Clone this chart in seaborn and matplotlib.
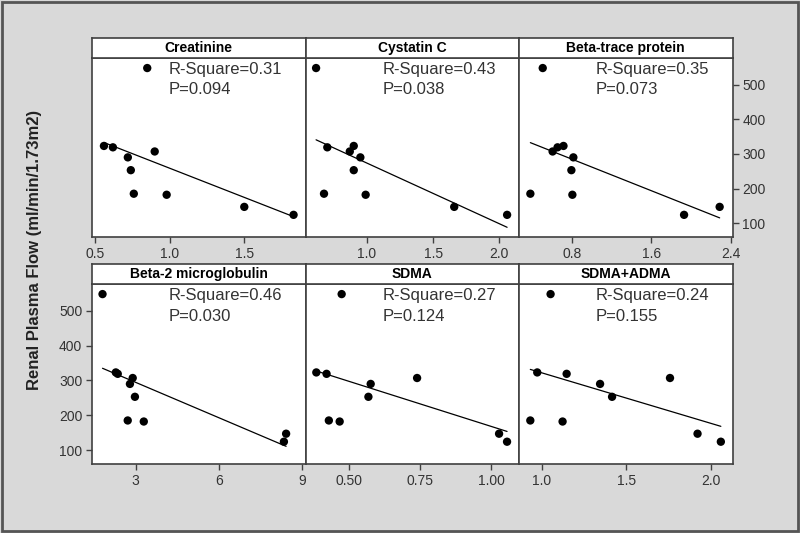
import numpy as np
import pandas as pd
import matplotlib
matplotlib.use("Agg")
import matplotlib.pyplot as plt
import seaborn as sns
from matplotlib.patches import Rectangle

# Renal plasma flow, same subjects in every panel
rpf = [548, 323, 319, 307, 290, 253, 185, 182, 147, 124]

# Biomarker values per subject (same order as rpf)
creatinine = [0.85, 0.56, 0.62, 0.90, 0.72, 0.74, 0.76, 0.98, 1.50, 1.83]
cystatin_c = [0.615, 0.90, 0.70, 0.87, 0.95, 0.90, 0.675, 0.99, 1.66, 2.06]
beta_trace = [0.50, 0.71, 0.65, 0.60, 0.81, 0.79, 0.375, 0.80, 2.29, 1.93]
beta2_micro = [1.80, 2.28, 2.35, 2.89, 2.79, 2.97, 2.71, 3.29, 8.43, 8.35]
sdma = [0.475, 0.386, 0.422, 0.74, 0.577, 0.569, 0.43, 0.468, 1.028, 1.056]
sdma_adma = [1.053, 0.974, 1.148, 1.76, 1.346, 1.417, 0.933, 1.124, 1.923, 2.061]

panel_names = ["Creatinine", "Cystatin C", "Beta-trace protein",
               "Beta-2 microglobulin", "SDMA", "SDMA+ADMA"]
r_square = ["0.31", "0.43", "0.35", "0.46", "0.27", "0.24"]
p_values = ["0.094", "0.038", "0.073", "0.030", "0.124", "0.155"]
x_ticks = [[0.5, 1.0, 1.5], [1.0, 1.5, 2.0], [0.8, 1.6, 2.4],
           [3, 6, 9], [0.50, 0.75, 1.00], [1.0, 1.5, 2.0]]
x_ticklabels = [["0.5", "1.0", "1.5"], ["1.0", "1.5", "2.0"], ["0.8", "1.6", "2.4"],
                ["3", "6", "9"], ["0.50", "0.75", "1.00"], ["1.0", "1.5", "2.0"]]
y_ticks = [100, 200, 300, 400, 500]

marker_x = [creatinine, cystatin_c, beta_trace, beta2_micro, sdma, sdma_adma]
df = pd.concat([pd.DataFrame({"marker": name, "value": xs, "rpf": rpf})
                for name, xs in zip(panel_names, marker_x)], ignore_index=True)

# axis ranges (layout, not data)
x_limits = [(0.48, 1.91), (0.535, 2.15), (0.26, 2.42),
            (1.42, 9.13), (0.348, 1.098), (0.866, 2.13)]
y_limits = (60, 577)

sns.set_style("ticks")
plt.rcParams["font.family"] = ["Liberation Sans", "DejaVu Sans"]

bg = "#d9d9d9"
edge = "#404040"
txt = "#333333"

fig = plt.figure(figsize=(8, 5.33), dpi=100, facecolor=bg)
W, H = 800, 533
col_left = [92, 305.5, 519]
col_w = 213.5
rows = [(58, 237, 38), (284, 464, 264)]  # data top, data bottom, strip top

for i, name in enumerate(panel_names):
    r, c = divmod(i, 3)
    top, bottom, strip_top = rows[r]
    ax = fig.add_axes([col_left[c] / W, 1 - bottom / H, col_w / W, (bottom - top) / H])
    ax.set_facecolor("white")
    sub = df[df["marker"] == name]
    sns.regplot(data=sub, x="value", y="rpf", ax=ax, ci=None, scatter=False,
                line_kws=dict(color="black", lw=0.9))
    sns.scatterplot(data=sub, x="value", y="rpf", ax=ax, color="black",
                    s=36, edgecolor="none", zorder=3)
    ax.set_xlim(x_limits[i])
    ax.set_ylim(y_limits)
    ax.set_xticks(x_ticks[i])
    ax.set_xticklabels(x_ticklabels[i])
    ax.set_xlabel("")
    ax.set_ylabel("")
    ax.tick_params(axis="both", direction="out", length=4, width=1, color=edge,
                   labelcolor=txt, labelsize=10, pad=3)
    if i == 2:
        ax.yaxis.tick_right()
        ax.set_yticks(y_ticks)
    elif i == 3:
        ax.set_yticks(y_ticks)
    else:
        ax.set_yticks([])
    for sp in ax.spines.values():
        sp.set_visible(True)
        sp.set_color(edge)
        sp.set_linewidth(1.2)
    ax.text(0.36, 545, "R-Square=" + r_square[i], transform=ax.get_yaxis_transform(),
            fontsize=12, color=txt, va="center", ha="left")
    ax.text(0.36, 485, "P=" + p_values[i], transform=ax.get_yaxis_transform(),
            fontsize=12, color=txt, va="center", ha="left")

    # strip with the panel title
    sax = fig.add_axes([col_left[c] / W, 1 - top / H, col_w / W, (top - strip_top) / H])
    sax.set_facecolor("white")
    sax.set_xticks([])
    sax.set_yticks([])
    for sp in sax.spines.values():
        sp.set_color(edge)
        sp.set_linewidth(1.2)
    sax.text(0.5, 0.5, name, ha="center", va="center", fontsize=10,
             fontweight="bold", color="black", transform=sax.transAxes)

fig.text(35 / W, 1 - 250 / H, "Renal Plasma Flow (ml/min/1.73m2)", rotation=90,
         ha="center", va="center", fontsize=12, fontweight="bold", color="#222222")

fig.patches.append(Rectangle((0.002, 0.003), 0.996, 0.994, transform=fig.transFigure,
                             fill=False, edgecolor="#555555", lw=2))

fig.savefig("out.png", dpi=100, facecolor=bg)
